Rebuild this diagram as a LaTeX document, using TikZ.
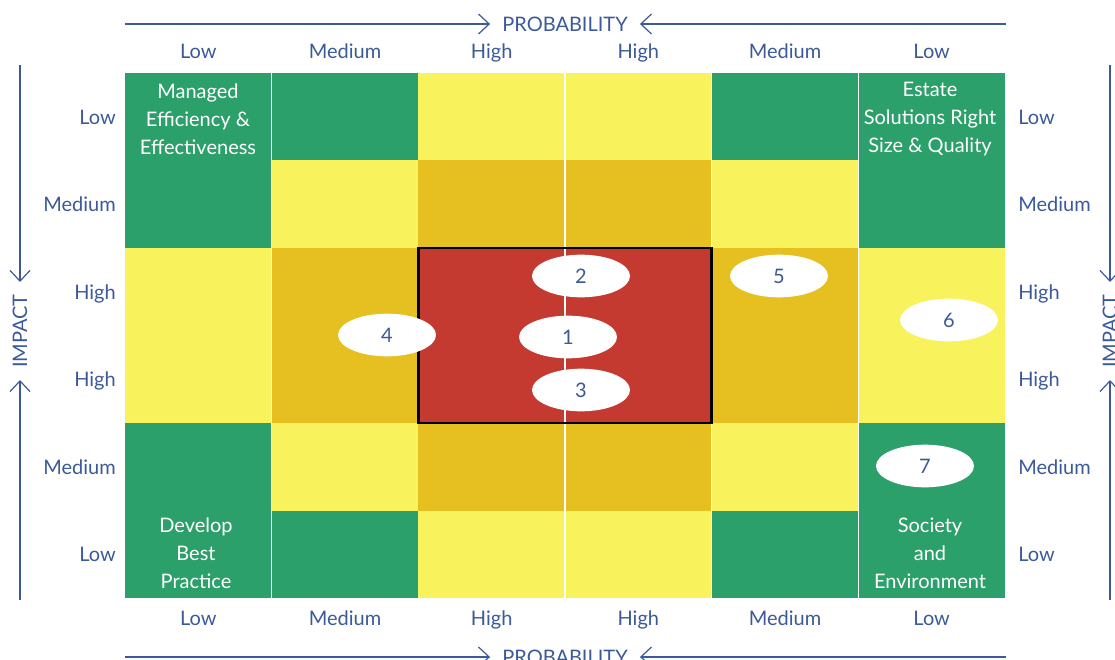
\documentclass[tikz,border=0pt]{standalone}
\usepackage{fontspec}
\setmainfont{Lato}
\usetikzlibrary{arrows.meta,shapes.geometric}
\definecolor{cG}{HTML}{2CA06A}
\definecolor{cY}{HTML}{F8F25C}
\definecolor{cD}{HTML}{E5C020}
\definecolor{cR}{HTML}{C43A31}
\definecolor{cB}{HTML}{3C5A98}
\begin{document}
\begin{tikzpicture}[x=0.75pt,y=-0.75pt,
  lbl/.style={text=cB,font=\fontsize{15}{20}\selectfont,inner sep=0pt},
  axis/.style={text=cB,font=\fontsize{15}{20}\selectfont,inner xsep=9pt,inner ysep=0pt},
  arr/.style={draw=cB,line width=0.9pt,-{Straight Barb[length=8pt,width=15pt]}},
  celltxt/.style={text=white,font=\fontsize{15}{21}\selectfont,align=center,inner sep=0pt},
  ell/.style={ellipse,fill=white,minimum width=73.5pt,minimum height=32pt,inner sep=0pt,text=cB,font=\fontsize{15}{20}\selectfont},
  sep/.style={draw=white,line width=0.9pt}]
\useasboundingbox (0,0) rectangle (1115,660);
% cells
\foreach \r/\row in {0/{cG,cG,cY,cY,cG,cG},1/{cG,cY,cD,cD,cY,cG},2/{cY,cD,cR,cR,cD,cY},3/{cY,cD,cR,cR,cD,cY},4/{cG,cY,cD,cD,cY,cG},5/{cG,cG,cY,cY,cG,cG}}{
  \foreach \c [count=\i from 0] in \row {
    \fill[\c] ({125+\i*146.6667},{73+\r*87.5}) rectangle ++(146.6667,87.5);
  }
}
% white separators
\foreach \x in {271.67,565,711.67,858.33}{
  \draw[sep] (\x,73) -- (\x,598);
}
% red zone border
\draw[line width=1.8pt] (418.33,248) rectangle (711.67,423);
% column labels
\foreach \t [count=\i from 0] in {Low,Medium,High,High,Medium,Low}{
  \node[lbl,anchor=mid] (top\i) at ({198.33+\i*146.6667},55) {\t};
  \node[lbl,anchor=mid] (bot\i) at ({198.33+\i*146.6667},622) {\t};
}
% row labels
\foreach \t [count=\i from 0] in {Low,Medium,High,High,Medium,Low}{
  \node[lbl,anchor=mid east] (lft\i) at (116,{121+\i*87.5}) {\t};
  \node[lbl,anchor=mid west] (rgt\i) at (1018,{121+\i*87.5}) {\t};
}
% probability axes
\coordinate (pTl) at (125,24);
\coordinate (pTr) at (1006,24);
\node[axis] (pT) at (565,24) {PROBABILITY};
\draw[arr] (pTl) -- (pT.west);
\draw[arr] (pTr) -- (pT.east);
\coordinate (pBl) at (125,657);
\coordinate (pBr) at (1006,657);
\node[axis] (pB) at (565,657) {PROBABILITY};
\draw[arr] (pBl) -- (pB.west);
\draw[arr] (pBr) -- (pB.east);
% impact axes
\coordinate (iLt) at (20,65);
\coordinate (iLb) at (20,600);
\node[axis,rotate=90] (iL) at (20,331) {IMPACT};
\draw[arr] (iLt) -- (iL.east);
\draw[arr] (iLb) -- (iL.west);
\coordinate (iRt) at (1110,65);
\coordinate (iRb) at (1110,600);
\node[axis,rotate=90] (iR) at (1110,331) {IMPACT};
\draw[arr] (iRt) -- (iR.east);
\draw[arr] (iRb) -- (iR.west);
% corner texts
\node[celltxt] (c1) at (198,119) {Managed\\Efficiency \&\\Effectiveness};
\node[celltxt] (c2) at (930,119) {Estate\\Solutions Right\\Size \& Quality};
\node[celltxt] (c3) at (196,553) {Develop\\Best\\Practice};
\node[celltxt] (c4) at (930,553) {Society\\and\\Environment};
% risk ellipses
\node[ell] (e1) at (568,337) {1};
\node[ell] (e2) at (581,276) {2};
\node[ell] (e3) at (581,390) {3};
\node[ell] (e4) at (387,335) {4};
\node[ell] (e5) at (779,276) {5};
\node[ell] (e6) at (949,320) {6};
\node[ell] (e7) at (925,466) {7};
\end{tikzpicture}
\end{document}
